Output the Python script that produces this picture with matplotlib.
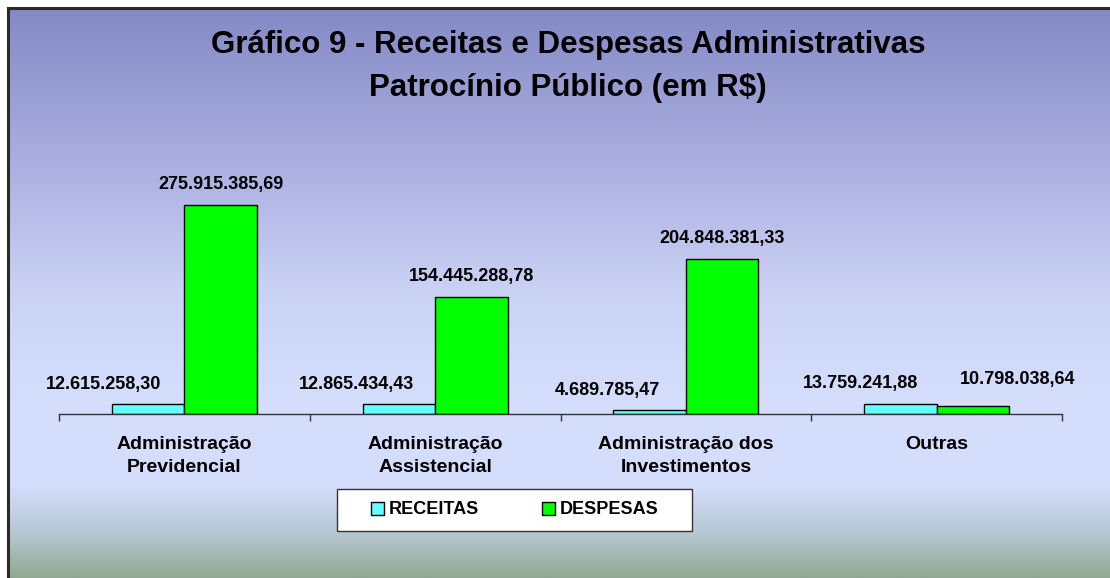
import matplotlib
matplotlib.use("Agg")
import matplotlib.pyplot as plt
import numpy as np
from matplotlib.patches import Rectangle, Patch
from matplotlib.colors import LinearSegmentedColormap

plt.rcParams['font.family'] = ['Liberation Sans', 'DejaVu Sans']

# data
categorias = ["Administração\nPrevidencial", "Administração\nAssistencial",
              "Administração dos\nInvestimentos", "Outras"]
receitas = [12615258.30, 12865434.43, 4689785.47, 13759241.88]
despesas = [275915385.69, 154445288.78, 204848381.33, 10798038.64]
rotulos_rec = ["12.615.258,30", "12.865.434,43", "4.689.785,47", "13.759.241,88"]
rotulos_desp = ["275.915.385,69", "154.445.288,78", "204.848.381,33", "10.798.038,64"]

W, H = 1110, 578
fig = plt.figure(figsize=(W / 100, H / 100), dpi=100)
fig.patch.set_facecolor("white")

# background gradient of the chart area
bg = fig.add_axes([8 / W, 0, 1 - 8 / W, 1 - 8 / H], zorder=0)
stops = [(0.0, (146, 168, 146)), (0.08, (184, 200, 212)), (0.16, (212, 222, 252)),
         (0.31, (212, 222, 252)), (0.49, (204, 212, 246)), (0.75, (168, 172, 222)),
         (1.0, (132, 138, 198))]
cmap = LinearSegmentedColormap.from_list("bg", [(p, tuple(c / 255 for c in col)) for p, col in stops])
grad = np.linspace(0, 1, 256).reshape(-1, 1)
bg.imshow(grad, aspect="auto", cmap=cmap, origin="lower", extent=[0, 1, 0, 1])
bg.set_xlim(0, 1)
bg.set_ylim(0, 1)
bg.axis("off")
# frame (top and left visible)
fig.add_artist(Rectangle((8 / W, -0.05), 1.2, 1 - 8 / H + 0.05, transform=fig.transFigure,
                         fill=False, edgecolor="#2a2a2a", linewidth=2.2, zorder=1))

# main axes
px_per_m = 0.759
ax_top = 100
ax = fig.add_axes([59 / W, (H - 414) / H, 1003 / W, (414 - ax_top) / H], zorder=2)
ax.patch.set_alpha(0)
ymax = (414 - ax_top) / px_per_m * 1e6

x = np.arange(len(categorias))
w = 0.289
b1 = ax.bar(x - w / 2, receitas, w, color="#66FFFF", edgecolor="black", linewidth=1, label="RECEITAS")
b2 = ax.bar(x + w / 2, despesas, w, color="#00FF00", edgecolor="black", linewidth=1, label="DESPESAS")

ax.set_xlim(-0.5, len(categorias) - 0.5)
ax.set_ylim(0, ymax)
for s in ["top", "left", "right"]:
    ax.spines[s].set_visible(False)
ax.spines["bottom"].set_color("#333333")
ax.spines["bottom"].set_linewidth(1)
ax.set_yticks([])

ax.set_xticks(np.arange(-0.5, len(categorias), 1))
ax.set_xticklabels([])
ax.tick_params(axis="x", which="major", length=5, width=1, color="#333333", direction="out")
ax.set_xticks(x, minor=True)
ax.set_xticklabels(categorias, minor=True, fontsize=14, fontweight="bold", linespacing=1.45)
ax.tick_params(axis="x", which="minor", length=0, pad=16)

# value labels
dx_rec = [-45, -42, -42, -40]
dx_desp = [0, 0, 0, 45]
dy_desp = [20, 20, 20, 26]
for i in range(len(categorias)):
    ax.annotate(rotulos_rec[i], (x[i] - w / 2, receitas[i]), xytext=(dx_rec[i], 20),
                textcoords="offset pixels", ha="center", va="center",
                fontsize=13, fontweight="bold")
    ax.annotate(rotulos_desp[i], (x[i] + w / 2, despesas[i]), xytext=(dx_desp[i], dy_desp[i]),
                textcoords="offset pixels", ha="center", va="center",
                fontsize=13, fontweight="bold")

# title
fig.text(568 / W, 1 - 45 / H, "Gráfico 9 - Receitas e Despesas Administrativas",
         ha="center", va="center", fontsize=22.5, fontweight="bold", zorder=3)
fig.text(568 / W, 1 - 88 / H, "Patrocínio Público (em R$)",
         ha="center", va="center", fontsize=22.5, fontweight="bold", zorder=3)

# legend
fig.add_artist(Rectangle((337 / W, 1 - 531 / H), 355 / W, 42 / H, transform=fig.transFigure,
                         facecolor="white", edgecolor="#333333", linewidth=1, zorder=3))
handles = [Patch(facecolor="#66FFFF", edgecolor="black", linewidth=1),
           Patch(facecolor="#00FF00", edgecolor="black", linewidth=1)]
leg = fig.legend(handles, ["RECEITAS", "DESPESAS"], loc="center",
                 bbox_to_anchor=(515 / W, 1 - 510 / H), ncol=2, frameon=False,
                 prop={"size": 13, "weight": "bold"}, handlelength=0.7, handleheight=0.7,
                 handletextpad=0.28, columnspacing=3.5)
leg.set_zorder(4)

fig.savefig("out.png", dpi=100)
